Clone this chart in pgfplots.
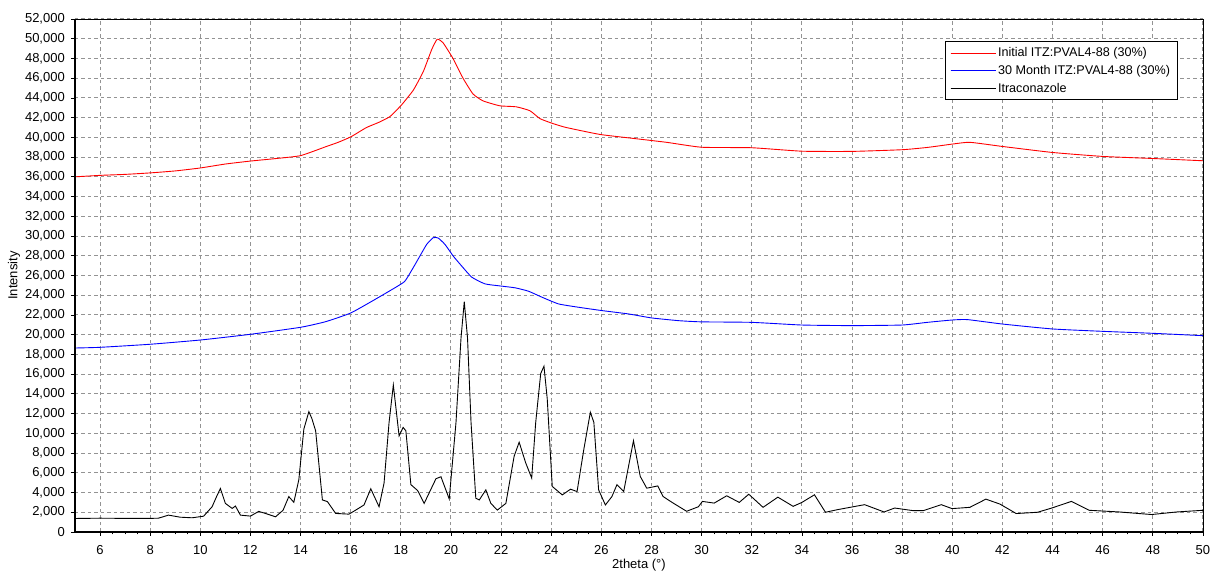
\documentclass[border=0pt]{standalone}
\usepackage{fontspec}
\setmainfont{Liberation Sans}
\usepackage{pgfplots}
\pgfplotsset{compat=1.18}
\begin{document}
\begin{tikzpicture}
\path[use as bounding box] (-75pt,-43pt) rectangle (1136pt,532pt);
\begin{axis}[
  scale only axis, width=1128pt, height=513pt,
  at={(0pt,0pt)}, anchor=south west,
  xmin=5, xmax=50, ymin=0, ymax=52000,
  xtick={6,8,...,50}, ytick={0,2000,...,52000},
  minor x tick num=3,
  scaled y ticks=false,
  /pgf/number format/assume math mode=true,
  yticklabel style={/pgf/number format/1000 sep={,}, anchor=east, inner sep=0pt, xshift=-6pt},
  xticklabel style={anchor=north, inner sep=0pt, yshift=-9pt},
  tick label style={font=\fontsize{13}{15}\selectfont},
  label style={font=\fontsize{13}{15}\selectfont},
  xlabel={2theta (°)}, ylabel={Intensity},
  xlabel style={at={(axis description cs:0.5,0)}, anchor=center, yshift=-33pt},
  ylabel style={at={(axis description cs:0,0.5)}, anchor=center, yshift=61pt},
  tick pos=left, tick align=outside,
  major tick length=4pt, minor tick length=2.5pt,
  tick style={black, line width=0.8pt},
  grid=major,
  major grid style={dash pattern=on 3.5pt off 3pt, gray!85, line width=1pt},
  axis line style={black, line width=0.8pt},
  legend cell align=left,
  legend style={at={(0.9775,0.9565)}, anchor=north east, draw=black, line width=1pt,
    font=\fontsize{12.6}{14}\selectfont, inner xsep=5pt, inner ysep=4pt, row sep=3pt},
  legend image code/.code={\draw[#1, line width=1.1pt] (0pt,0pt) -- (39pt,0pt); \path (0pt,0pt) -- (45pt,0pt);},
]
\addplot[red, line width=0.9pt, smooth, tension=0.3] coordinates {
(5,36000) (6,36150) (7,36250) (8,36400) (9,36600) (10,36900) (11,37300) (12,37600)
(13,37850) (14,38150) (15,39050) (15.5,39500) (16,40050) (16.63,41000) (17.1,41500)
(17.56,42100) (18.03,43300) (18.5,44800) (18.9,46700) (19.23,48900) (19.45,49950)
(19.68,49600) (20.08,48000) (20.48,46000) (20.88,44400) (21.28,43700) (21.95,43200)
(22.6,43100) (23.15,42700) (23.55,41900) (24.07,41400) (24.6,41000) (25.94,40300)
(27.26,39900) (28.6,39500) (30,39000) (32,38950) (34,38600) (36,38580) (38,38750)
(39,38980) (40,39320) (40.7,39500) (42,39080) (44,38470) (46,38070) (48,37860) (50,37630)
};
\addlegendentry{Initial ITZ:PVAL4-88 (30\%)}
\addplot[blue, line width=0.9pt, smooth, tension=0.3] coordinates {
(5,18650) (6,18720) (8,19030) (10,19460) (12,20040) (14,20750) (15,21320) (16,22200)
(16.96,23560) (17.76,24750) (18.16,25420) (18.49,26780) (18.76,27970) (19.03,29150)
(19.29,29830) (19.49,29800) (19.76,29150) (20.09,27970) (20.43,26950) (20.83,25830)
(21.36,25150) (22.03,24920) (22.56,24750) (23.09,24410) (23.63,23800) (24.29,23120)
(25.09,22780) (26.03,22440) (27.09,22100) (28,21700) (29.09,21420) (30,21300)
(32,21250) (34,20980) (36,20920) (38,20980) (39,21250) (40,21490) (40.6,21530)
(42,21080) (44,20580) (46,20340) (48,20140) (50,19900)
};
\addlegendentry{30 Month ITZ:PVAL4-88 (30\%)\hspace{14pt}}
\addplot[black, line width=0.9pt] coordinates {
(5,1370) (6,1400) (7,1380) (8,1380) (8.33,1400) (8.73,1710) (9.2,1500) (9.67,1440)
(10.13,1600) (10.47,2560) (10.65,3600) (10.8,4410) (11.0,2900) (11.27,2390) (11.4,2630) (11.6,1710)
(12.0,1610) (12.33,2090) (12.6,1880) (13.0,1540) (13.3,2200) (13.53,3590) (13.73,3010)
(13.93,5300) (14.13,10430) (14.33,12200) (14.45,11500) (14.6,10260) (14.87,3250)
(15.07,3080) (15.4,1880) (15.93,1810) (16.2,2220) (16.53,2740) (16.8,4380) (17.13,2560)
(17.33,4960) (17.53,11110) (17.7,14900) (17.93,9740) (18.09,10600) (18.2,10260)
(18.4,4800) (18.67,4200) (18.93,2900) (19.4,5400) (19.6,5600) (19.93,3350) (20.2,11110)
(20.4,19660) (20.53,23350) (20.66,19660) (20.8,11110) (20.99,3420) (21.13,3250)
(21.39,4270) (21.59,2900) (21.85,2220) (22.19,2900) (22.52,7690) (22.72,9100)
(22.98,7010) (23.22,5470) (23.38,11110) (23.58,16070) (23.71,16800) (23.84,13500)
(24.04,4620) (24.44,3760) (24.77,4340) (25.03,4100) (25.3,8380) (25.56,12140)
(25.7,11110) (25.89,4270) (26.16,2740) (26.42,3590) (26.62,4790) (26.89,4100)
(27.28,9250) (27.55,5640) (27.81,4440) (28.25,4670) (28.46,3600) (28.82,3000)
(29.4,2100) (29.87,2560) (30.03,3100) (30.5,2930) (31.0,3670) (31.5,3000) (31.88,3830)
(32.45,2500) (33.04,3530) (33.65,2600) (34.0,3000) (34.5,3770) (34.94,2000) (35.43,2270)
(36.5,2770) (37.28,2030) (37.7,2430) (38.42,2170) (38.85,2170) (39.56,2770) (39.99,2370)
(40.7,2500) (41.34,3330) (41.9,2830) (42.55,1870) (43.4,2000) (43.97,2430) (44.75,3100)
(45.46,2200) (46.67,2030) (47.95,1770) (48.95,2030) (50,2200)
};
\addlegendentry{Itraconazole}
\end{axis}
\draw[black, line width=2pt] (current axis.north west) -- (current axis.south west) -- (current axis.south east);
\end{tikzpicture}
\end{document}
